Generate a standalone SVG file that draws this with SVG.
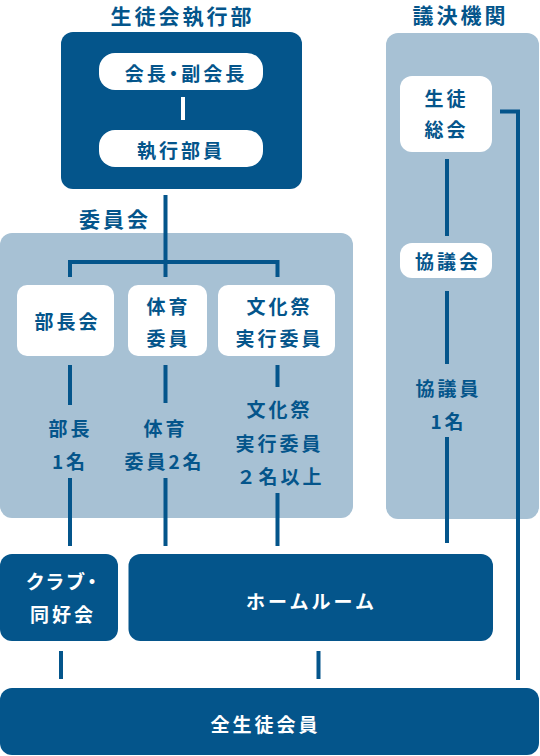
<svg xmlns="http://www.w3.org/2000/svg" width="540" height="756" viewBox="0 0 540 756">
<style>
text{font-family:"Noto Sans CJK JP","Noto Sans",sans-serif;font-weight:700;text-anchor:middle;dominant-baseline:central;letter-spacing:3px}
.t{font-size:21px;fill:#04558B}
.d{font-size:19px;fill:#04558B}
.w{font-size:19px;fill:#FFFFFF}
.p{font-feature-settings:"palt"}
.dark{fill:#04558B}
.light{fill:#A7C1D4}
.white{fill:#FFFFFF}
.c{fill:none;stroke:#04558B;stroke-width:4}
.cw{fill:none;stroke:#FFFFFF;stroke-width:4}
</style>
<rect width="540" height="756" fill="#FFFFFF"/>
<g id="iinkai-area">
<rect class="light" x="0" y="233" width="353" height="285" rx="12"/>
<text class="t" x="115" y="218">委員会</text>
</g>
<g id="giketsu-area">
<rect class="light" x="386" y="33" width="153" height="486" rx="12"/>
<text class="t" x="460.5" y="14">議決機関</text>
</g>
<g id="shikkoubu">
<text class="t" x="182.5" y="15">生徒会執行部</text>
<rect class="dark" x="61" y="32" width="241" height="157" rx="12"/>
</g>
<g id="connectors">
<path class="c" d="M165.5 195V277M70 277V262H277.5V277"/>
<path class="cw" d="M183 97V120"/>
<path class="c" d="M70 365V405M165.5 365V403M277.5 365V387"/>
<path class="c" d="M70 478V546M165.5 478V546M277.5 493V546"/>
<path class="c" d="M447 159V236M447 291V364M447 437V543"/>
<path class="c" d="M500 111.5H518V680"/>
<path class="c" d="M61 651V679M318.5 651V679"/>
</g>
<g id="kaicho">
<rect class="white" x="99" y="53" width="164" height="37" rx="16"/>
<text class="d p" x="186" y="72">会長・副会長</text>
</g>
<g id="shikkoubuin">
<rect class="white" x="99" y="130" width="164" height="37" rx="16"/>
<text class="d" x="181" y="149">執行部員</text>
</g>
<g id="buchokai">
<rect class="white" x="17" y="285" width="97" height="71" rx="10"/>
<text class="d" x="67.5" y="320">部長会</text>
</g>
<g id="taiiku">
<rect class="white" x="128" y="285" width="79" height="71" rx="10"/>
<text class="d" x="168.5" y="305">体育</text>
<text class="d" x="168.5" y="337">委員</text>
</g>
<g id="bunkasai">
<rect class="white" x="218" y="285" width="117" height="71" rx="10"/>
<text class="d" x="279.5" y="305">文化祭</text>
<text class="d" x="279.5" y="337">実行委員</text>
</g>
<g id="bucho-label">
<text class="d" x="70.5" y="427">部長</text>
<text class="d" x="70" y="460">1名</text>
</g>
<g id="taiiku-label">
<text class="d" x="165.5" y="427">体育</text>
<text class="d" x="164.5" y="460">委員2名</text>
</g>
<g id="bunkasai-label">
<text class="d" x="279.5" y="408">文化祭</text>
<text class="d" x="279.5" y="442">実行委員</text>
<text class="d" x="280.5" y="475">２名以上</text>
</g>
<g id="seitosoukai">
<rect class="white" x="400" y="76" width="92" height="76" rx="12"/>
<text class="d" x="446.5" y="97.5">生徒</text>
<text class="d" x="446.5" y="128">総会</text>
</g>
<g id="kyogikai">
<rect class="white" x="400" y="243" width="92" height="35" rx="12"/>
<text class="d" x="448" y="260">協議会</text>
</g>
<g id="kyogiin-label">
<text class="d" x="448.5" y="387">協議員</text>
<text class="d" x="448.5" y="420">1名</text>
</g>
<g id="club">
<rect class="dark" x="0" y="554" width="118" height="87" rx="12"/>
<text class="w p" x="63" y="580">クラブ・</text>
<text class="w" x="63" y="613">同好会</text>
</g>
<g id="homeroom">
<rect class="dark" x="128.5" y="554" width="364.5" height="87" rx="12"/>
<text class="w" x="311.5" y="600">ホームルーム</text>
</g>
<g id="zenseito">
<rect class="dark" x="0" y="688" width="539" height="67" rx="12"/>
<text class="w" x="265.5" y="723">全生徒会員</text>
</g>
</svg>
